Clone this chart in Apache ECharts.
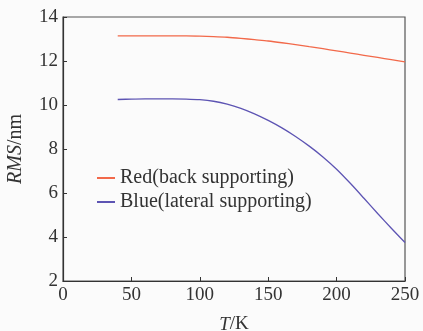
<!DOCTYPE html>
<html>
<head>
<meta charset="utf-8">
<script src="https://cdn.jsdelivr.net/npm/echarts@6/dist/echarts.min.js"></script>
<style>
  html, body { margin: 0; padding: 0; background: #fbfbfb; }
  #container { width: 423px; height: 331px; }
</style>
</head>
<body>
<div id="container"></div>
<script>
// temperature (K)
var temps = [40, 50, 60, 70, 80, 90, 100, 110, 120, 130, 140, 150, 160, 170, 180, 190, 200, 210, 220, 230, 240, 250];
// back supporting
var redRms = [13.14, 13.14, 13.14, 13.14, 13.14, 13.14, 13.13, 13.11, 13.08, 13.03, 12.97, 12.91, 12.83, 12.74, 12.65, 12.56, 12.46, 12.36, 12.26, 12.16, 12.06, 11.96];
// lateral supporting
var blueRms = [10.25, 10.27, 10.28, 10.28, 10.28, 10.27, 10.24, 10.17, 10.04, 9.85, 9.6, 9.3, 8.96, 8.57, 8.13, 7.64, 7.08, 6.44, 5.76, 5.07, 4.4, 3.75];
var xTicks = [0, 50, 100, 150, 200, 250];
var yTicks = [2, 4, 6, 8, 10, 12, 14];

function pairs(xs, ys) {
    var out = [];
    for (var i = 0; i < xs.length; i++) {
        out.push([xs[i], ys[i]]);
    }
    return out;
}

var serif = 'Liberation Serif';

var option = {
    backgroundColor: '#fbfbfb',
    animation: false,
    textStyle: { fontFamily: serif },
    grid: {
        left: 63, right: 18, top: 17, bottom: 50,
        containLabel: false,
        outerBoundsMode: 'none',
        show: true, borderColor: '#555', borderWidth: 1.2
    },
    legend: {
        orient: 'vertical',
        left: 92, top: 163,
        itemGap: 4,
        itemWidth: 18, itemHeight: 2,
        icon: 'rect',
        textStyle: { fontFamily: serif, fontSize: 20, color: '#333' },
        data: ['Red(back supporting)', 'Blue(lateral supporting)']
    },
    xAxis: {
        type: 'value',
        min: xTicks[0], max: xTicks[xTicks.length - 1], interval: 50,
        axisLine: { lineStyle: { color: '#333', width: 1.2 } },
        axisTick: { inside: true, length: 4, lineStyle: { color: '#333' } },
        splitLine: { show: false },
        axisLabel: { fontFamily: serif, fontSize: 19, color: '#333', margin: 5 },
        name: '{i|T}/K',
        nameLocation: 'middle',
        nameGap: 34,
        nameTextStyle: {
            fontFamily: serif, fontSize: 19, color: '#333',
            rich: { i: { fontStyle: 'italic', fontFamily: serif, fontSize: 19, color: '#333' } }
        }
    },
    yAxis: {
        type: 'value',
        min: yTicks[0], max: yTicks[yTicks.length - 1], interval: 2,
        axisLine: { show: true, lineStyle: { color: '#333', width: 1.2 } },
        axisTick: { show: true, inside: true, length: 4, lineStyle: { color: '#333' } },
        splitLine: { show: false },
        axisLabel: { fontFamily: serif, fontSize: 19, color: '#333', margin: 5 },
        name: '{i|RMS}/nm',
        nameLocation: 'middle',
        nameGap: 37,
        nameTextStyle: {
            fontFamily: serif, fontSize: 20, color: '#333',
            rich: { i: { fontStyle: 'italic', fontFamily: serif, fontSize: 20, color: '#333' } }
        }
    },
    series: [
        {
            name: 'Red(back supporting)',
            type: 'line',
            smooth: 0.3,
            showSymbol: false,
            color: '#f2694a',
            lineStyle: { width: 1.3 },
            data: pairs(temps, redRms)
        },
        {
            name: 'Blue(lateral supporting)',
            type: 'line',
            smooth: 0.3,
            showSymbol: false,
            color: '#5d54b3',
            lineStyle: { width: 1.3 },
            data: pairs(temps, blueRms)
        }
    ]
};

var myChart = echarts.init(document.getElementById('container'));
myChart.setOption(option);
</script>
</body>
</html>
